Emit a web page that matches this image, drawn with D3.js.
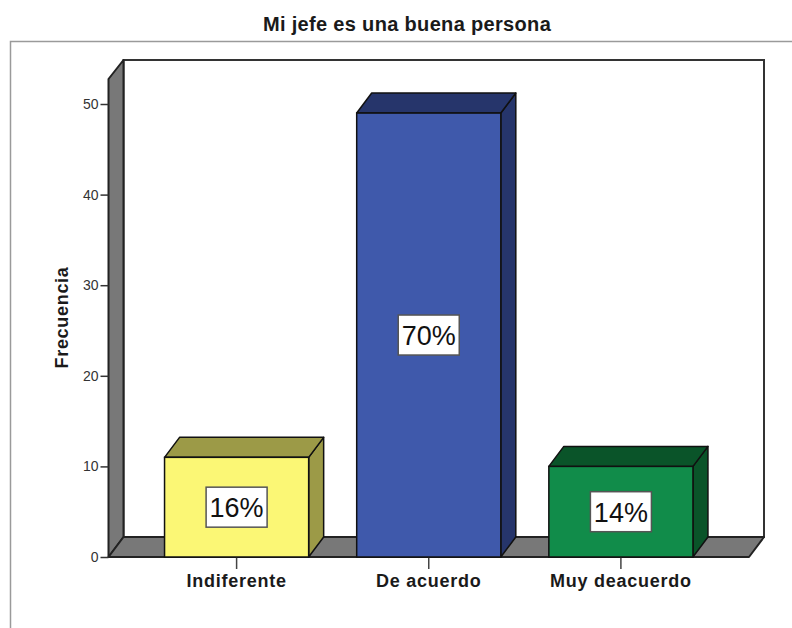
<!DOCTYPE html>
<html>
<meta charset="utf-8">
<script src="https://d3js.org/d3.v7.min.js"></script>
<style>
  html, body { margin: 0; padding: 0; background: #fff; }
  svg { display: block; }
  text { font-family: "Liberation Sans", Arial, sans-serif; }
</style>
<body>
<div id="vis"></div>
<script>
  const categories = ["Indiferente", "De acuerdo", "Muy deacuerdo"];
  const frecuencia = [11, 49, 10];
  const porcentajes = ["16%", "70%", "14%"];
  const yTicks = [0, 10, 20, 30, 40, 50];
  const frontColors = ["#fbf775", "#3f59ab", "#118c4a"];
  const topColors = ["#9c9a47", "#26356b", "#0a5429"];
  const sideColors = ["#9c9a47", "#26356b", "#0a5429"];

  const total_width = 792, total_height = 628;
  const plot = {left: 108.5, right: 749, top: 79, bottom: 557};
  const depth = {x: 15, y: 20};   // 3d offset of the box

  const svg = d3.select("#vis").append("svg")
    .attr("width", total_width)
    .attr("height", total_height);

  const x = d3.scaleBand()
    .domain(categories)
    .range([plot.left, plot.right])
    .paddingInner(0.25)
    .paddingOuter(0.2917);

  const y = d3.scaleLinear()
    .domain([0, 52.76])
    .range([plot.bottom, plot.top]);

  // outer frame
  svg.append("path")
    .attr("d", "M10.5,628V41.5H792")
    .attr("fill", "none")
    .attr("stroke", "#9a9a9a")
    .attr("stroke-width", 1.5);

  // title
  svg.append("text")
    .attr("x", 407)
    .attr("y", 31)
    .attr("text-anchor", "middle")
    .style("font-size", "20px")
    .style("font-weight", "bold")
    .style("letter-spacing", "0.33px")
    .style("fill", "#1a1a1a")
    .text("Mi jefe es una buena persona");

  // back wall, left wall, floor
  const line = d3.line();
  const backLeft = plot.left + depth.x, backBottom = plot.bottom - depth.y, backTop = plot.top - 19;

  svg.append("rect")
    .attr("x", backLeft).attr("y", backTop)
    .attr("width", plot.right - plot.left).attr("height", backBottom - backTop)
    .attr("fill", "#fff").attr("stroke", "#333").attr("stroke-width", 2);

  svg.append("path")
    .attr("d", line([[plot.left, plot.top], [backLeft, backTop], [backLeft, backBottom], [plot.left, plot.bottom]]) + "Z")
    .attr("fill", "#787878").attr("stroke", "#222").attr("stroke-width", 2)
    .attr("stroke-linejoin", "round");

  svg.append("path")
    .attr("d", line([[plot.left, plot.bottom], [backLeft, backBottom], [plot.right + depth.x, backBottom], [plot.right, plot.bottom]]) + "Z")
    .attr("fill", "#787878").attr("stroke", "#222").attr("stroke-width", 2)
    .attr("stroke-linejoin", "round");

  // axes
  const yAxis = svg.append("g")
    .attr("transform", `translate(${plot.left},0)`)
    .call(d3.axisLeft(y).tickValues(yTicks).tickSize(8).tickPadding(2).tickFormat(d3.format("d")));
  yAxis.select(".domain").remove();
  yAxis.selectAll("line").attr("stroke", "#333").attr("stroke-width", 1.5);
  yAxis.selectAll("text").style("font-size", "14px").style("font-family", '"Liberation Sans", Arial, sans-serif').style("fill", "#333");

  const xAxis = svg.append("g")
    .attr("transform", `translate(0,${plot.bottom})`)
    .call(d3.axisBottom(x).tickSize(12).tickPadding(5));
  xAxis.select(".domain").remove();
  xAxis.selectAll("line").attr("stroke", "#444").attr("stroke-width", 1.5);
  xAxis.selectAll("text")
    .style("font-size", "18px")
    .style("font-weight", "bold")
    .style("letter-spacing", "0.75px")
    .style("font-family", '"Liberation Sans", Arial, sans-serif')
    .style("fill", "#1a1a1a");

  // y title
  svg.append("text")
    .attr("transform", "translate(68,317.5) rotate(-90)")
    .attr("text-anchor", "middle")
    .style("font-size", "18px")
    .style("font-weight", "bold")
    .style("letter-spacing", "0.7px")
    .style("fill", "#1a1a1a")
    .text("Frecuencia");

  // bars
  const bars = svg.append("g").selectAll("g")
    .data(categories)
    .join("g");

  const vals = new Map(categories.map((c, i) => [c, i]));

  // right side
  bars.append("path")
    .attr("d", d => {
      const r = x(d) + x.bandwidth(), t = y(frecuencia[vals.get(d)]);
      return line([[r, t], [r + depth.x, t - depth.y], [r + depth.x, plot.bottom - depth.y], [r, plot.bottom]]) + "Z";
    })
    .attr("fill", d => sideColors[vals.get(d)])
    .attr("stroke", "#111").attr("stroke-width", 1.5).attr("stroke-linejoin", "round");

  // top
  bars.append("path")
    .attr("d", d => {
      const l = x(d), r = l + x.bandwidth(), t = y(frecuencia[vals.get(d)]);
      return line([[l, t], [l + depth.x, t - depth.y], [r + depth.x, t - depth.y], [r, t]]) + "Z";
    })
    .attr("fill", d => topColors[vals.get(d)])
    .attr("stroke", "#111").attr("stroke-width", 1.5).attr("stroke-linejoin", "round");

  // front
  bars.append("rect")
    .attr("x", d => x(d))
    .attr("y", d => y(frecuencia[vals.get(d)]))
    .attr("width", x.bandwidth())
    .attr("height", d => plot.bottom - y(frecuencia[vals.get(d)]))
    .attr("fill", d => frontColors[vals.get(d)])
    .attr("stroke", "#111").attr("stroke-width", 1.5);

  // percent boxes
  bars.append("rect")
    .attr("x", d => x(d) + x.bandwidth() / 2 - 30.5)
    .attr("y", d => (y(frecuencia[vals.get(d)]) + plot.bottom) / 2 - 20)
    .attr("width", 61)
    .attr("height", 40)
    .attr("fill", "#fff")
    .attr("stroke", "#555")
    .attr("stroke-width", 1.5);

  bars.append("text")
    .attr("x", d => x(d) + x.bandwidth() / 2)
    .attr("y", d => (y(frecuencia[vals.get(d)]) + plot.bottom) / 2 + 10)
    .attr("text-anchor", "middle")
    .style("font-size", "27px")
    .style("fill", "#111")
    .text(d => porcentajes[vals.get(d)]);
</script>
</body>
</html>
